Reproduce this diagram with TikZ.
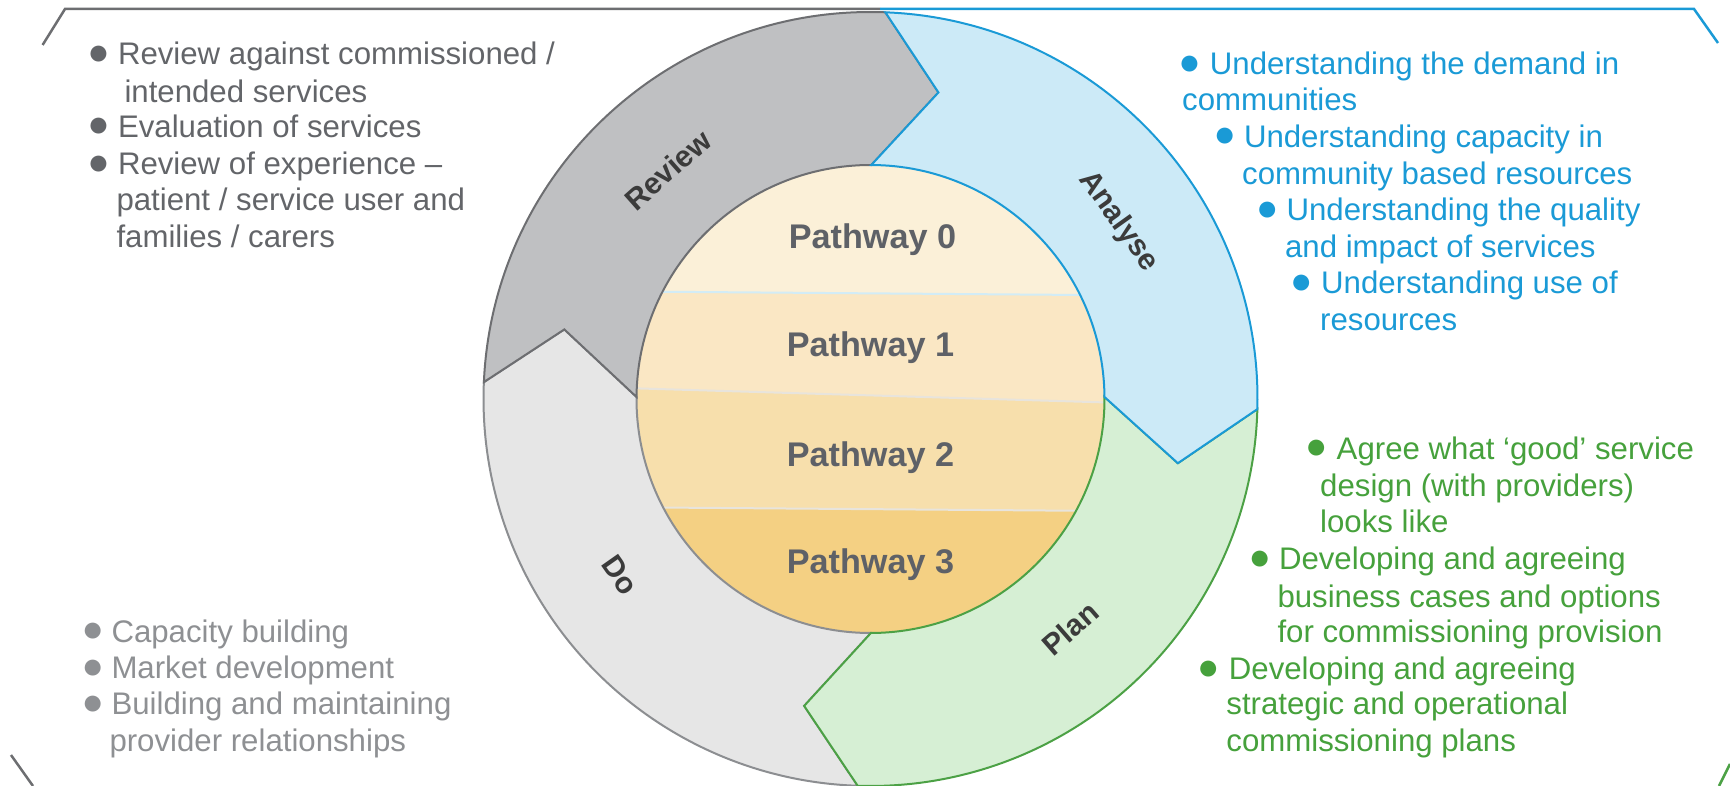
\documentclass[tikz,border=0pt]{standalone}
\usepackage{fontspec}
\setmainfont{Liberation Sans}
\definecolor{revfill}{HTML}{BFC0C2}
\definecolor{revline}{HTML}{6D6E71}
\definecolor{dofill}{HTML}{E6E6E6}
\definecolor{doline}{HTML}{8C8E91}
\definecolor{anafill}{HTML}{CCEAF7}
\definecolor{analine}{HTML}{1A9AD6}
\definecolor{planfill}{HTML}{D6EFD4}
\definecolor{planline}{HTML}{4CA145}
\definecolor{bandA}{HTML}{FBF0D8}
\definecolor{bandB}{HTML}{FAE7C4}
\definecolor{bandC}{HTML}{F7DFAC}
\definecolor{bandD}{HTML}{F4D083}
\definecolor{sepblue}{HTML}{D2ECF6}
\definecolor{sepgrey}{HTML}{E8E4DC}
\definecolor{pathink}{HTML}{5E6167}
\definecolor{labelink}{HTML}{3B3B3B}
\definecolor{greyink}{HTML}{636569}
\definecolor{lightink}{HTML}{8E9093}
\definecolor{blueink}{HTML}{1A9AD6}
\definecolor{greenink}{HTML}{46A13C}

% one ring segment: tail boundary angle #1, head boundary angle #2 (clockwise)
\newcommand\ringseg[2]{%
  ({#1-1.2}:387pt) arc[start angle={#1-1.2}, end angle={#2-1.2}, radius=387pt]
  -- ({#2-11.5}:314pt) -- ({#2+0.8}:234pt)
  arc[start angle={#2+0.8}, end angle={#1+0.8}, radius=234pt]
  -- ({#1-11.5}:314pt) -- cycle}

\tikzset{
  bodytext/.style={anchor=base west, inner sep=0pt, font=\fontsize{31.2}{36}\selectfont},
  bulletmark/.style={inner sep=0pt, font=\fontsize{37}{37}\selectfont},
  ringlabel/.style={inner sep=0pt, font=\fontsize{30}{30}\selectfont\bfseries, text=labelink},
  pathlabel/.style={anchor=base, inner sep=0pt, font=\fontsize{34.2}{34}\selectfont\bfseries, text=pathink},
  segline/.style={line width=2pt, line join=miter},
  frameline/.style={line width=2.5pt}
}

\begin{document}
\begin{tikzpicture}[x=1pt, y=1pt]
\useasboundingbox (0,0) rectangle (1730,-786);

% frame fragments
\coordinate (fa) at (42.6,-45);
\coordinate (fb) at (65,-9);
\coordinate (fc) at (880,-9);
\coordinate (fd) at (1694,-9);
\coordinate (fe) at (1718,-43);
\coordinate (ff) at (11,-755);
\coordinate (fg) at (33,-786);
\coordinate (fh) at (1730,-764);
\coordinate (fi) at (1719,-786);
\draw[frameline, revline] (fa) -- (fb) -- (fc);
\draw[frameline, analine] (fc) -- (fd) -- (fe);
\draw[frameline, revline] (ff) -- (fg);
\draw[frameline, planline] (fh) -- (fi);

\begin{scope}[shift={(870.5,-399)}]
  % pathway bands inside the inner disc
  \begin{scope}
    \clip (0,0) circle[radius=234pt];
    \fill[bandA] (-240,240) rectangle (240,-240);
    \fill[bandB] (-240,107.5) -- (240,103.8) -- (240,-240) -- (-240,-240) -- cycle;
    \fill[bandC] (-240,10.8) -- (240,-3.6) -- (240,-240) -- (-240,-240) -- cycle;
    \fill[bandD] (-240,-108.3) -- (240,-112) -- (240,-240) -- (-240,-240) -- cycle;
    \draw[sepblue, line width=2pt] (-240,107.5) -- (240,103.8);
    \draw[sepgrey, line width=2pt] (-240,10.8) -- (240,-3.6);
    \draw[sepgrey, line width=2pt] (-240,-108.3) -- (240,-112);
  \end{scope}

  % ring segments: Do, Review, Plan, Analyse
  \filldraw[segline, fill=dofill, draw=doline] \ringseg{-90.7}{-181.3};
  \filldraw[segline, fill=revfill, draw=revline] \ringseg{178.7}{89};
  \filldraw[segline, fill=planfill, draw=planline] \ringseg{-0.3}{-90.7};
  \filldraw[segline, fill=anafill, draw=analine] \ringseg{89}{-0.3};

  % segment labels
  \node[ringlabel, rotate=41.5] (review) at (131.5:306pt) {Review};
  \node[ringlabel, rotate=-54.4] (analyse) at (35.6:305pt) {Analyse};
  \node[ringlabel, rotate=41] (plan) at (-49:304pt) {Plan};
  \node[ringlabel, rotate=-54.9] (do) at (215.1:306pt) {Do};
\end{scope}

% pathway labels
\node[pathlabel] (p0) at (872.5,-248.3) {Pathway 0};
\node[pathlabel] (p1) at (870.5,-356.7) {Pathway 1};
\node[pathlabel] (p2) at (870.5,-466.7) {Pathway 2};
\node[pathlabel] (p3) at (870.5,-573.3) {Pathway 3};

% review notes
\begin{scope}[every node/.append style={text=greyink}]
  \node[bulletmark] (rb1) at (98.5,-55.5) {●};
  \node[bodytext] (rt1) at (117.8,-65) {Review against commissioned /};
  \node[bodytext] (rt2) at (124.3,-102.2) {intended services};
  \node[bulletmark] (rb2) at (98.5,-127.8) {●};
  \node[bodytext] (rt3) at (117.8,-137.3) {Evaluation of services};
  \node[bulletmark] (rb3) at (98.5,-164.9) {●};
  \node[bodytext] (rt4) at (117.8,-174.4) {Review of experience –};
  \node[bodytext] (rt5) at (116.3,-211) {patient / service user and};
  \node[bodytext] (rt6) at (116.3,-247.6) {families / carers};
\end{scope}

% do notes
\begin{scope}[every node/.append style={text=lightink}]
  \node[bulletmark] (db1) at (92.7,-632.6) {●};
  \node[bodytext] (dt1) at (111.3,-642.1) {Capacity building};
  \node[bulletmark] (db2) at (92.7,-669.2) {●};
  \node[bodytext] (dt2) at (111.3,-678.7) {Market development};
  \node[bulletmark] (db3) at (92.7,-705.3) {●};
  \node[bodytext] (dt3) at (111.3,-714.8) {Building and maintaining};
  \node[bodytext] (dt4) at (109.3,-751.4) {provider relationships};
\end{scope}

% analyse notes
\begin{scope}[every node/.append style={text=blueink}]
  \node[bulletmark] (ab1) at (1189.6,-65.2) {●};
  \node[bodytext] (at1) at (1209.7,-74.7) {Understanding the demand in};
  \node[bodytext] (at2) at (1182,-110.8) {communities};
  \node[bulletmark] (ab2) at (1224.7,-137.8) {●};
  \node[bodytext] (at3) at (1243.8,-147.3) {Understanding capacity in};
  \node[bodytext] (at4) at (1242,-184.5) {community based resources};
  \node[bulletmark] (ab3) at (1267.3,-211.5) {●};
  \node[bodytext] (at5) at (1286.4,-221) {Understanding the quality};
  \node[bodytext] (at6) at (1284.9,-257.6) {and impact of services};
  \node[bulletmark] (ab4) at (1301.4,-284.2) {●};
  \node[bodytext] (at7) at (1321,-293.7) {Understanding use of};
  \node[bodytext] (at8) at (1320,-330.3) {resources};
\end{scope}

% plan notes
\begin{scope}[every node/.append style={text=greenink}]
  \node[bulletmark] (pb1) at (1316.4,-449.6) {●};
  \node[bodytext] (pt1) at (1336.5,-459.1) {Agree what ‘good’ service};
  \node[bodytext] (pt2) at (1320,-496.7) {design (with providers)};
  \node[bodytext] (pt3) at (1320,-532.8) {looks like};
  \node[bulletmark] (pb2) at (1259.8,-559.9) {●};
  \node[bodytext] (pt4) at (1278.8,-569.4) {Developing and agreeing};
  \node[bodytext] (pt5) at (1277.3,-607) {business cases and options};
  \node[bodytext] (pt6) at (1277.3,-642.1) {for commissioning provision};
  \node[bulletmark] (pb3) at (1208.2,-670.2) {●};
  \node[bodytext] (pt7) at (1228.7,-679.7) {Developing and agreeing};
  \node[bodytext] (pt8) at (1226.2,-714.8) {strategic and operational};
  \node[bodytext] (pt9) at (1226.2,-751.3) {commissioning plans};
\end{scope}
\end{tikzpicture}
\end{document}
